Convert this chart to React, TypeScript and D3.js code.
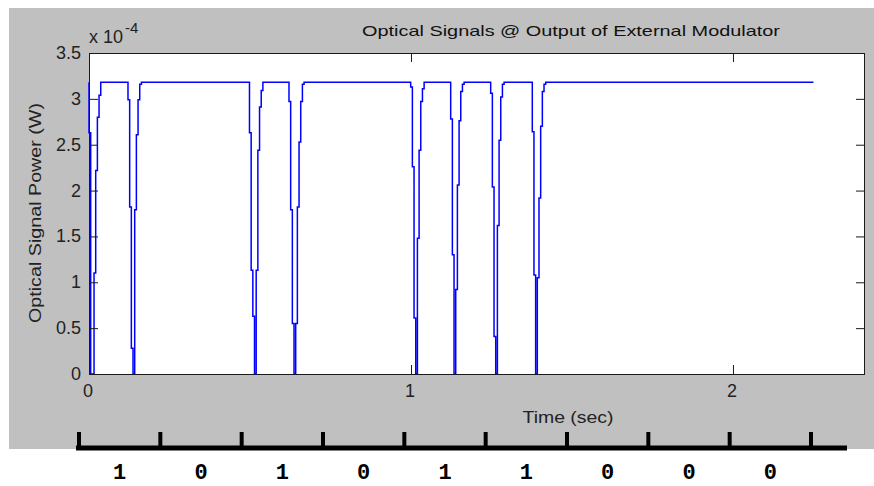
import React from 'react';
import * as d3 from 'd3';

// Figure size
const W = 874;
const H = 486;

// Axis ticks (power in units of 1e-4 W, time in seconds)
const yTicks = [0, 0.5, 1, 1.5, 2, 2.5, 3, 3.5];
const xTicks = [0, 1, 2];

// Modulator output: steady "on" level, with sampled dips
const HIGH_LEVEL = 3.18;
const END_TIME = 2.25;
const SAMPLE_DT = 0.125 / 24;
const dipStarts = [0, 0.1211, 0.4984, 0.6211, 0.9991, 1.1233, 1.2475, 1.3767];
const dipLevels = [
  [2.63, 0, 0, 1.1, 2.22, 2.8, 3.04],
  [2.99, 1.82, 0.28, 0, 1.79, 2.61, 2.99, 3.16],
  [2.63, 1.13, 0.63, 0, 1.13, 2.44, 2.91, 3.09],
  [2.97, 1.79, 0.55, 0, 0.55, 1.82, 2.53, 2.97, 3.16],
  [3.13, 2.26, 0.61, 0, 1.48, 2.44, 2.97, 3.11],
  [2.78, 1.3, 0, 0.92, 2.06, 2.76, 3.08, 3.16],
  [3.06, 2.04, 0.41, 0, 1.62, 2.55, 3.02, 3.16],
  [2.64, 1.08, 0, 1.05, 1.92, 2.7, 3.08, 3.16],
];

// Bit sequence annotated under the time axis
const bits = [1, 0, 1, 0, 1, 1, 0, 0, 0];

const FONT = 'Liberation Sans, Arial, Helvetica, sans-serif';
const AXIS_COLOR = '#1a1a1a';

type Pt = { t: number; v: number };

function buildSignal(): Pt[] {
  const pts: Pt[] = [{ t: 0, v: HIGH_LEVEL }];
  dipStarts.forEach((start, k) => {
    const lv = dipLevels[k];
    lv.forEach((v, i) => pts.push({ t: start + i * SAMPLE_DT, v }));
    pts.push({ t: start + lv.length * SAMPLE_DT, v: HIGH_LEVEL });
  });
  pts.push({ t: END_TIME, v: HIGH_LEVEL });
  return pts;
}

export default function App() {
  const left = 89;
  const right = 865;
  const top = 53;
  const bottom = 374;

  const x = d3.scaleLinear().domain([0, 2.41]).range([left, right]);
  const y = d3.scaleLinear().domain([0, 3.5]).range([bottom, top]);

  const signal = buildSignal();
  const path = d3
    .line<Pt>()
    .x((d) => x(d.t))
    .y((d) => y(d.v))
    .curve(d3.curveStepAfter)(signal) as string;

  const bitX = d3.scaleLinear().domain([0, bits.length]).range([79, 811]);
  const tickLen = 9;

  return (
    <svg
      width={W}
      height={H}
      viewBox={`0 0 ${W} ${H}`}
      style={{ position: 'absolute', left: 0, top: 0, background: '#fff' }}
    >
      {/* figure background */}
      <rect x={9} y={8} width={W - 9} height={441} fill="#c0c0c0" />

      {/* title */}
      <text
        x={571}
        y={36}
        textAnchor="middle"
        fontFamily={FONT}
        fontSize={15}
        fill="#111"
        textLength={418}
        lengthAdjust="spacingAndGlyphs"
      >
        Optical Signals @ Output of External Modulator
      </text>

      {/* exponent label */}
      <text x={89} y={43} fontFamily={FONT} fontSize={18} fill="#222">
        x 10
      </text>
      <text x={125} y={33} fontFamily={FONT} fontSize={15} fill="#222">
        -4
      </text>

      {/* axes area */}
      <rect x={left} y={top} width={right - left} height={bottom - top} fill="#fff" />

      <defs>
        <clipPath id="plotClip">
          <rect x={left - 1} y={top} width={right - left + 2} height={bottom - top + 1} />
        </clipPath>
      </defs>
      <g clipPath="url(#plotClip)">
        <path d={path} fill="none" stroke="#0000ff" strokeWidth={1.5} />
      </g>

      <rect
        x={left + 0.5}
        y={top + 0.5}
        width={right - left - 1}
        height={bottom - top}
        fill="none"
        stroke={AXIS_COLOR}
        strokeWidth={1}
      />

      {/* y ticks and labels */}
      {yTicks.map((t) => (
        <g key={'y' + t}>
          <line x1={left} x2={left + tickLen} y1={y(t) + 0.5} y2={y(t) + 0.5} stroke={AXIS_COLOR} />
          <line x1={right - tickLen} x2={right} y1={y(t) + 0.5} y2={y(t) + 0.5} stroke={AXIS_COLOR} />
          <text
            x={81}
            y={y(t) + 6}
            textAnchor="end"
            fontFamily={FONT}
            fontSize={18}
            fill="#222"
          >
            {String(t)}
          </text>
        </g>
      ))}

      {/* x ticks and labels */}
      {xTicks.map((t) => (
        <g key={'x' + t}>
          <line x1={x(t) + 0.5} x2={x(t) + 0.5} y1={bottom} y2={bottom - tickLen} stroke={AXIS_COLOR} />
          <line x1={x(t) + 0.5} x2={x(t) + 0.5} y1={top} y2={top + tickLen} stroke={AXIS_COLOR} />
          <text
            x={x(t) - 1}
            y={397}
            textAnchor="middle"
            fontFamily={FONT}
            fontSize={18}
            fill="#222"
          >
            {String(t)}
          </text>
        </g>
      ))}

      {/* axis labels */}
      <text
        x={568}
        y={423}
        textAnchor="middle"
        fontFamily={FONT}
        fontSize={17}
        fill="#222"
        textLength={91}
        lengthAdjust="spacingAndGlyphs"
      >
        Time (sec)
      </text>
      <text
        transform="translate(41,213) rotate(-90)"
        textAnchor="middle"
        fontFamily={FONT}
        fontSize={17}
        fill="#222"
        textLength={220}
        lengthAdjust="spacingAndGlyphs"
      >
        Optical Signal Power (W)
      </text>

      {/* bit sequence ruler */}
      <line x1={76} x2={847} y1={448} y2={448} stroke="#000" strokeWidth={5} />
      {d3.range(bits.length + 1).map((i) => (
        <line key={'bt' + i} x1={bitX(i)} x2={bitX(i)} y1={432} y2={448} stroke="#000" strokeWidth={4} />
      ))}
      {bits.map((b, i) => (
        <text
          key={'b' + i}
          x={bitX(i + 0.5)}
          y={479}
          textAnchor="middle"
          fontFamily="Liberation Mono, Courier New, monospace"
          fontWeight="bold"
          fontSize={22}
          fill="#000"
        >
          {String(b)}
        </text>
      ))}
    </svg>
  );
}
